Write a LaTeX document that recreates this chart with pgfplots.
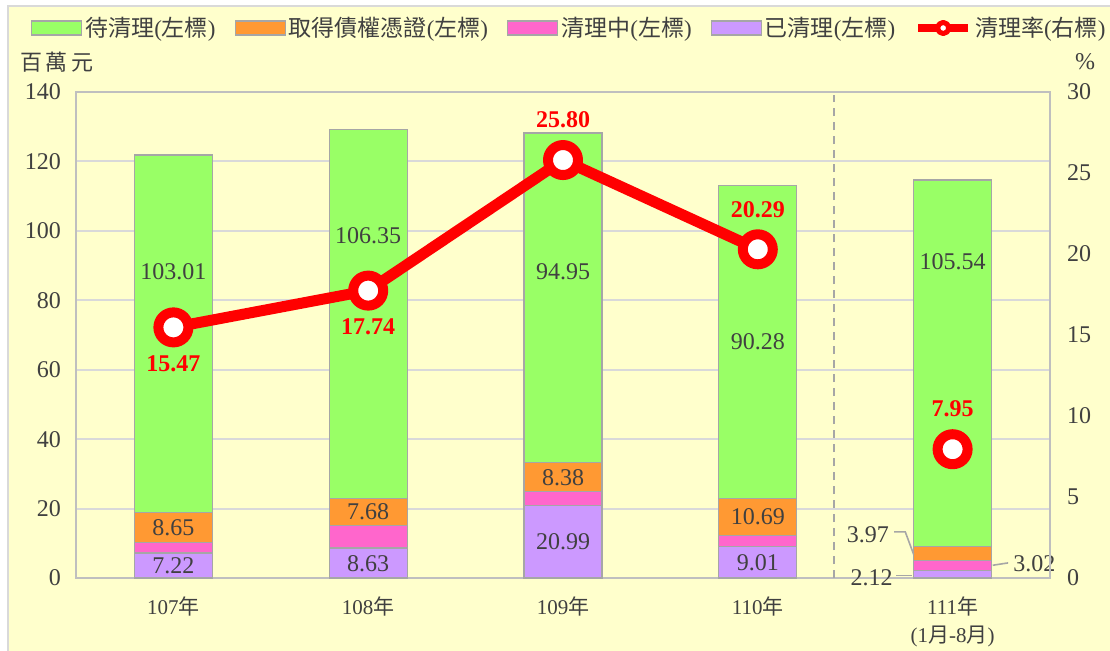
\documentclass[border=0pt]{standalone}
\usepackage{fontspec}
\setmainfont{Liberation Serif}
\newfontfamily\cjk{Noto Sans CJK TC}
\usepackage{pgfplots}
\pgfplotsset{compat=1.18}
\usepackage{pgfplotstable}
\pgfkeys{/pgf/number format/assume math mode=true}

\definecolor{bg}{HTML}{FFFFCC}
\definecolor{cgreen}{HTML}{99FF66}
\definecolor{corange}{HTML}{FF9933}
\definecolor{cpink}{HTML}{FF66CC}
\definecolor{cpurple}{HTML}{CC99FF}
\definecolor{edge}{HTML}{A6A6A6}
\definecolor{framec}{HTML}{BFBFBF}
\definecolor{gridc}{HTML}{D9D9D9}
\definecolor{txt}{HTML}{404040}
\definecolor{cred}{HTML}{FF0000}

\pgfplotstableread{
x purple pink orange green
0 7.22 3.00 8.65 103.01
1 8.63 6.60 7.68 106.35
2 20.99 3.85 8.38 94.95
3 9.01 3.20 10.69 90.28
4 2.12 3.02 3.97 105.54
}\bars

\pgfplotstableread{
x y lbl
0 3.6 7.22
0 14.55 8.65
0 88.2 103.01
1 4.2 8.63
1 19.1 7.68
1 98.6 106.35
2 10.5 20.99
2 29.0 8.38
2 88.2 94.95
3 4.4 9.01
3 17.6 10.69
3 68.0 90.28
4 91.0 105.54
}\inlabels

\pgfplotstableread{
x y lbl
3.685 12.6 3.97
3.705 0.1 2.12
}\leftlabels

\pgfplotstableread{
x y lbl
4.30 4.0 3.02
}\rightlabels

\pgfplotstableread{
x rate
0 15.47
1 17.74
2 25.80
3 20.29
}\rates

\pgfplotstableread{
x rate
4 7.95
}\ratesb

\pgfplotstableread{
x rate
0 15.47
1 17.74
}\ratesbelow

\pgfplotstableread{
x rate
2 25.80
3 20.29
4 7.95
}\ratesabove

\pgfplotsset{common/.style={width=487pt, height=243pt, scale only axis,
  at={(38pt,36pt)}, anchor=south west, xmin=-0.5, xmax=4.5, ymin=0, clip=false}}

\newcommand{\lblfont}{\fontsize{12}{14}\selectfont}

\begin{document}
\begin{tikzpicture}
\useasboundingbox (0,0) rectangle (555pt,325pt);
\fill[white] (0,0) rectangle (555pt,325pt);
\filldraw[fill=bg, draw=gridc, line width=1pt] (4pt,-10pt) rectangle (565pt,322pt);

\node[text=txt, font=\fontsize{11}{13}\selectfont\cjk] at (28.5pt,294pt) {百\hspace{2pt}萬\hspace{2pt}元};
\node[text=txt, font=\lblfont] at (542.5pt,294pt) {\%};

% Axis 1: stacked bars
\begin{axis}[common, ymax=140, ybar stacked, bar width=0.4,
  axis line style={framec, line width=1pt},
  ymajorgrids, grid style={gridc, line width=1pt},
  ytick={0,20,...,140}, xtick={0,1,2,3,4},
  xticklabels={107{\cjk 年}, 108{\cjk 年}, 109{\cjk 年}, 110{\cjk 年}, {111{\cjk 年}\\(1{\cjk 月}-8{\cjk 月})}},
  major tick length=0pt,
  yticklabel style={font=\lblfont, text=txt, xshift=-4pt},
  xticklabel style={font=\fontsize{10.5}{14}\selectfont, text=txt, align=center, yshift=-6pt},
]
\addplot[fill=cpurple, draw=edge, line width=0.6pt] table[x=x,y=purple]{\bars};
\addplot[fill=cpink, draw=edge, line width=0.6pt] table[x=x,y=pink]{\bars};
\addplot[fill=corange, draw=edge, line width=0.6pt] table[x=x,y=orange]{\bars};
\addplot[fill=cgreen, draw=edge, line width=0.6pt] table[x=x,y=green]{\bars};
\end{axis}

% Axis 2: labels, leaders, divider
\begin{axis}[common, ymax=140, hide axis]
\addplot[edge, line width=0.8pt, dash pattern=on 4pt off 3pt] coordinates {(3.39,0) (3.39,139)};
\addplot[only marks, mark size=0pt, point meta=explicit,
  nodes near coords={\pgfmathprintnumber[fixed,fixed zerofill,precision=2]{\pgfplotspointmeta}},
  nodes near coords style={anchor=center, font=\lblfont, text=txt}]
  table[x=x,y=y,meta=lbl]{\inlabels};
\addplot[only marks, mark size=0pt, point meta=explicit,
  nodes near coords={\pgfmathprintnumber[fixed,fixed zerofill,precision=2]{\pgfplotspointmeta}},
  nodes near coords style={anchor=east, inner sep=1pt, font=\lblfont, text=txt}]
  table[x=x,y=y,meta=lbl]{\leftlabels};
\addplot[only marks, mark size=0pt, point meta=explicit,
  nodes near coords={\pgfmathprintnumber[fixed,fixed zerofill,precision=2]{\pgfplotspointmeta}},
  nodes near coords style={anchor=west, inner sep=1pt, font=\lblfont, text=txt}]
  table[x=x,y=y,meta=lbl]{\rightlabels};
\addplot[edge, line width=0.8pt, mark=none] coordinates {(3.70,13.3) (3.757,13.3) (3.80,6.8)};
\addplot[edge, line width=0.8pt, mark=none] coordinates {(3.711,0.77) (3.794,0.77)};
\addplot[edge, line width=0.8pt, mark=none] coordinates {(4.206,3.67) (4.285,4.35)};
\end{axis}

% Axis 3: rate line, right axis, legend
\begin{axis}[common, ymax=30, axis y line*=right, axis x line=none,
  ytick={0,5,...,30}, xtick=\empty, major tick length=0pt,
  axis line style={framec, line width=1pt},
  yticklabel style={font=\lblfont, text=txt, xshift=5pt},
  legend style={at={(0.507,1.1317)}, anchor=center, draw=none, fill=none,
    legend columns=5, font=\fontsize{11.5}{13}\selectfont, text=txt,
    inner sep=0pt, nodes={inner sep=1.5pt},
    /tikz/every even column/.append style={column sep=8pt}},
]
\addlegendimage{legend image code/.code={\filldraw[fill=cgreen, draw=edge, line width=0.6pt] (0pt,-3.5pt) rectangle (25pt,3.5pt);}}
\addlegendentry{{\cjk 待清理}({\cjk 左標})}
\addlegendimage{legend image code/.code={\filldraw[fill=corange, draw=edge, line width=0.6pt] (0pt,-3.5pt) rectangle (25pt,3.5pt);}}
\addlegendentry{{\cjk 取得債權憑證}({\cjk 左標})}
\addlegendimage{legend image code/.code={\filldraw[fill=cpink, draw=edge, line width=0.6pt] (0pt,-3.5pt) rectangle (25pt,3.5pt);}}
\addlegendentry{{\cjk 清理中}({\cjk 左標})}
\addlegendimage{legend image code/.code={\filldraw[fill=cpurple, draw=edge, line width=0.6pt] (0pt,-3.5pt) rectangle (25pt,3.5pt);}}
\addlegendentry{{\cjk 已清理}({\cjk 左標})}
\addplot[cred, line width=5.5pt, line join=round, mark=*, mark size=7.5pt,
  mark options={fill=white, draw=cred, line width=5pt},
  legend image code/.code={\draw[cred, line width=4pt] (0pt,0pt) -- (25pt,0pt);
    \filldraw[fill=white, draw=cred, line width=2.5pt] (12.5pt,0pt) circle (2.8pt);}]
  table[x=x,y=rate]{\rates};
\addlegendentry{{\cjk 清理率}({\cjk 右標})}
\addplot[forget plot, cred, line width=5.5pt, mark=*, mark size=7.5pt,
  mark options={fill=white, draw=cred, line width=5pt}]
  table[x=x,y=rate]{\ratesb};
\addplot[forget plot, only marks, mark size=0pt,
  nodes near coords={\pgfmathprintnumber[fixed,fixed zerofill,precision=2]{\pgfplotspointmeta}},
  nodes near coords style={anchor=center, yshift=-18pt, font=\lblfont\bfseries, text=cred}]
  table[x=x,y=rate]{\ratesbelow};
\addplot[forget plot, only marks, mark size=0pt,
  nodes near coords={\pgfmathprintnumber[fixed,fixed zerofill,precision=2]{\pgfplotspointmeta}},
  nodes near coords style={anchor=center, yshift=20pt, font=\lblfont\bfseries, text=cred}]
  table[x=x,y=rate]{\ratesabove};
\end{axis}
\end{tikzpicture}
\end{document}
